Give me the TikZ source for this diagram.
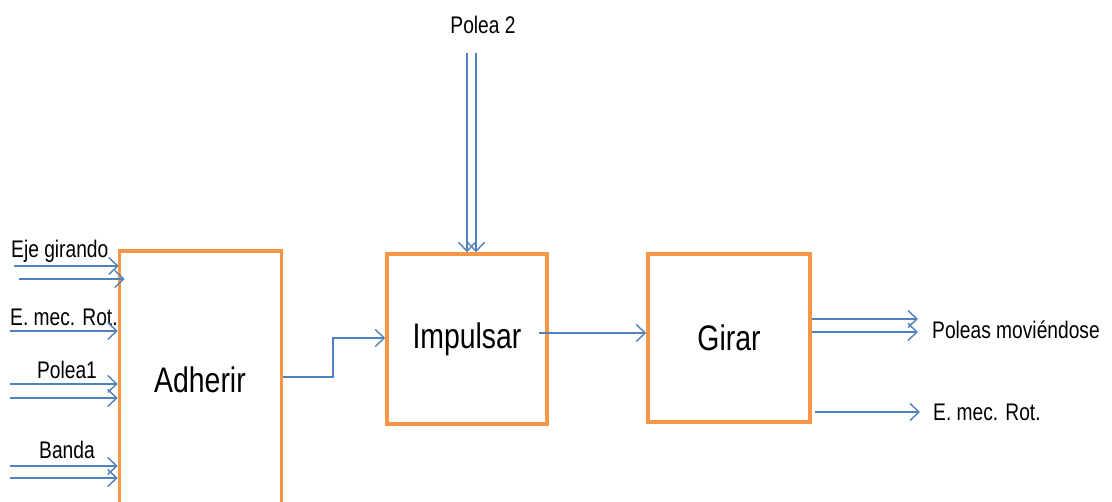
\documentclass[tikz,border=0pt]{standalone}
\usepackage{fontspec}
\setmainfont{Liberation Sans}[FakeStretch=0.8]
\usetikzlibrary{arrows.meta}
\definecolor{boxorange}{HTML}{F79646}
\definecolor{arrowblue}{HTML}{4F81BD}
\begin{document}
\begin{tikzpicture}[x=1pt,y=-1pt,
  blockbox/.style={draw=boxorange,line width=3.5pt,inner sep=0pt,fill=white,
    font=\fontsize{35.5}{38}\selectfont},
  flow/.style={draw=arrowblue,line width=1.4pt,
    -{Straight Barb[length=9pt,width=17pt,line width=1.4pt]}},
  lbl/.style={font=\fontsize{24}{26}\selectfont,inner sep=0pt}]
\clip (0,0) rectangle (1112,502);
\fill[white] (0,0) rectangle (1112,502);
% blocks
\node[blockbox,minimum width=162pt,minimum height=264pt] (adh) at (200.5,383) {};
\node[font=\fontsize{35.5}{38}\selectfont,inner sep=0pt] (adht) at (200,380) {Adherir};
\node[blockbox,minimum width=160pt,minimum height=170pt] (imp) at (467,339) {Impulsar};
\node[blockbox,minimum width=162pt,minimum height=168pt] (gir) at (729,338) {Girar};
% left labels
\node[lbl,anchor=west] (lej) at (11,251) {Eje girando};
\node[lbl,anchor=west] (lem) at (10,317) {E. mec. Rot.};
\node[lbl] (lpo) at (67,370) {Polea1};
\node[lbl] (lba) at (67,450) {Banda};
% left inputs
\coordinate (e1) at (14,266);
\coordinate (e2) at (19,279);
\coordinate (m1) at (10,331);
\coordinate (p1) at (10,384);
\coordinate (p2) at (10,398);
\coordinate (b1) at (10,466);
\coordinate (b2) at (10,478);
\draw[flow] (e1) -- ([xshift=1pt]e1 -| adh.west);
\draw[flow] (e2) -- ([xshift=7pt]e2 -| adh.west);
\draw[flow] (m1) -- (m1 -| adh.west);
\draw[flow] (p1) -- (p1 -| adh.west);
\draw[flow] (p2) -- (p2 -| adh.west);
\draw[flow] (b1) -- (b1 -| adh.west);
\draw[flow] (b2) -- (b2 -| adh.west);
% Adherir -> Impulsar
\coordinate (bend1) at (333,377);
\coordinate (bend2) at (333,338);
\draw[flow] (adh.east |- bend1) -- (bend1) -- (bend2) -- (imp.west |- bend2);
% Impulsar -> Girar
\coordinate (ig) at (539,333);
\draw[flow] (ig) -- (gir.west |- ig);
% Polea 2
\node[lbl] (lp2) at (483,25) {Polea 2};
\coordinate (q1) at (467,53);
\coordinate (q2) at (476,53);
\draw[flow] (q1) -- (q1 |- imp.north);
\draw[flow] (q2) -- (q2 |- imp.north);
% outputs
\coordinate (o1) at (918,319);
\coordinate (o2) at (918,332);
\coordinate (o3) at (920,412);
\draw[flow] (gir.east |- o1) -- (o1);
\draw[flow] (gir.east |- o2) -- (o2);
\draw[flow] ([xshift=3pt]gir.east |- o3) -- (o3);
\node[lbl,anchor=west] (lpm) at (932,330) {Poleas moviéndose};
\node[lbl,anchor=west] (lem2) at (933,412) {E. mec. Rot.};
\end{tikzpicture}
\end{document}
